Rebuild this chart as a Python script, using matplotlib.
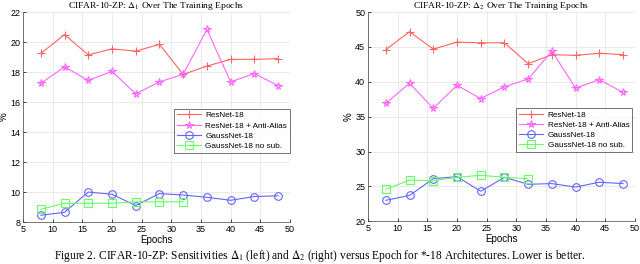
import numpy as np
import matplotlib
matplotlib.use('Agg')
import matplotlib.pyplot as plt

plt.rcParams['font.family'] = 'Liberation Sans'
plt.rcParams['mathtext.fontset'] = 'stix'

# epochs
epochs = [8, 12, 16, 20, 24, 28, 32, 36, 40, 44, 48]
epochs_nosub = [8, 12, 16, 20, 24, 28, 32]

# Delta 1 (left)
d1_resnet = [19.25, 20.5, 19.15, 19.55, 19.4, 19.85, 17.85, 18.4, 18.85, 18.85, 18.9]
d1_antialias = [17.25, 18.35, 17.45, 18.05, 16.55, 17.35, 17.85, 20.85, 17.35, 17.9, 17.1]
d1_gauss = [8.45, 8.65, 10.0, 9.85, 9.1, 9.9, 9.8, 9.65, 9.45, 9.7, 9.75]
d1_nosub = [8.85, 9.25, 9.25, 9.25, 9.35, 9.35, 9.35]

# Delta 2 (right)
d2_resnet = [44.6, 47.2, 44.7, 45.7, 45.6, 45.6, 42.6, 43.9, 43.8, 44.1, 43.9]
d2_antialias = [36.9, 39.8, 36.2, 39.5, 37.6, 39.3, 40.4, 44.4, 39.1, 40.3, 38.5]
d2_gauss = [23.0, 23.7, 26.1, 26.4, 24.3, 26.3, 25.3, 25.4, 24.9, 25.6, 25.4]
d2_nosub = [24.6, 25.9, 25.8, 26.3, 26.6, 26.3, 26.1]

labels = ['ResNet-18', 'ResNet-18 + Anti-Alias', 'GaussNet-18', 'GaussNet-18 no sub.']
colors = ['#ff6464', '#ff66ff', '#6464ff', '#66ff66']
markers = ['+', '*', 'o', 's']


def draw(ax, series, title, ylim, yticks, legend_bbox):
    xs = [epochs, epochs, epochs, epochs_nosub]
    for x, y, c, m, lab in zip(xs, series, colors, markers, labels):
        ax.plot(x, y, color=c, marker=m, lw=0.8, markersize=5.5 if m != '+' else 6,
                mfc='none', mew=0.8, label=lab)
    ax.set_xlim(5, 50)
    ax.set_ylim(*ylim)
    ax.set_xticks(np.arange(5, 51, 5))
    ax.set_yticks(yticks)
    ax.grid(True, color='#e6e6e6', lw=0.6)
    ax.set_axisbelow(True)
    ax.tick_params(labelsize=6.5, length=2, width=0.5, direction='in', pad=2)
    for s in ax.spines.values():
        s.set_linewidth(0.5)
        s.set_color('#444444')
    ax.spines['top'].set_visible(False)
    ax.spines['right'].set_visible(False)
    ax.set_title(title, fontsize=6.8, family='Liberation Serif', pad=1)
    ax.set_xlabel('Epochs', fontsize=7, labelpad=1)
    ax.set_ylabel('%', fontsize=7, labelpad=1)
    leg = ax.legend(loc='lower right', bbox_to_anchor=legend_bbox, fontsize=5.9,
                    frameon=True, fancybox=False, edgecolor='#333333',
                    borderpad=0.35, labelspacing=0.3, handlelength=3.0,
                    handletextpad=0.5, borderaxespad=0)
    leg.get_frame().set_linewidth(0.6)


fig = plt.figure(figsize=(6.4, 2.64), dpi=100)
ax1 = fig.add_axes([0.036, 0.159, 0.417, 0.795])
ax2 = fig.add_axes([0.575, 0.162, 0.417, 0.792])

draw(ax1, [d1_resnet, d1_antialias, d1_gauss, d1_nosub],
     r'CIFAR-10-ZP: $\Delta_1$ Over The Training Epochs',
     (8, 22), np.arange(8, 23, 2), (1.0, 0.33))
draw(ax2, [d2_resnet, d2_antialias, d2_gauss, d2_nosub],
     r'CIFAR-10-ZP: $\Delta_2$ Over The Training Epochs',
     (20, 50), np.arange(20, 51, 5), (0.99, 0.33))

fig.text(0.5, 0.0,
         r'Figure 2. CIFAR-10-ZP: Sensitivities $\Delta_1$ (left) and $\Delta_2$ (right) versus Epoch for *-18 Architectures. Lower is better.',
         ha='center', va='bottom', fontsize=8.3, family='Liberation Serif')

fig.savefig('out.png', dpi=100)
